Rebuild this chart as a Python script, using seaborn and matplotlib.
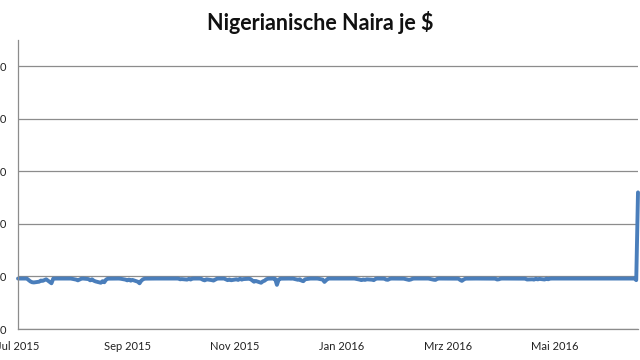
import datetime

import pandas as pd
import numpy as np
import seaborn as sns
import matplotlib.pyplot as plt

# Naira per US-$ (business days)
jul_2015 = [198.0, 198.0, 197.9, 198.0, 196.7, 195.3, 194.5, 194.3, 195.0, 196.1,
            195.8, 196.5, 197.3, 193.5, 197.9, 198.0, 198.0, 198.0, 198.0, 197.9,
            198.0, 198.0, 198.0]
aug_2015 = [197.0, 196.3, 197.1, 197.9, 198.0, 197.5, 196.3, 197.3, 196.0, 195.3,
            194.0, 195.5, 194.5, 197.0, 197.9, 198.0, 198.0, 198.0, 198.0, 197.9,
            197.0]
sep_2015 = [196.3, 197.0, 196.0, 196.7, 195.0, 193.5, 196.0, 197.3, 197.9, 198.0,
            198.0, 198.0, 198.0, 198.0, 198.0, 198.0, 198.0, 198.0, 198.0, 198.0,
            198.0, 198.0]
oct_2015 = [197.3, 197.5, 197.0, 197.7, 197.1, 197.9, 198.0, 198.0, 197.8, 196.8,
            196.3, 197.3, 196.5, 196.1, 197.0, 197.9, 198.0, 198.0, 197.3, 196.5,
            197.1, 196.4]
nov_2015 = [197.3, 196.7, 197.8, 197.0, 197.5, 197.8, 197.5, 196.3, 195.0, 195.7,
            194.0, 195.3, 196.0, 197.3, 197.9, 198.0, 197.7, 192.0, 197.0, 197.9,
            198.0]
dec_2015 = [198.0, 198.0, 197.9, 198.0, 196.8, 197.3, 196.0, 195.5, 197.3, 198.0,
            198.0, 198.0, 197.9, 198.0, 197.0, 194.8, 196.5, 197.9, 198.0, 198.0,
            198.0, 198.0, 198.0]
jan_2016 = [198.0, 198.0, 198.0, 198.0, 197.9, 198.0, 197.0, 196.5, 197.1, 196.7,
            197.3, 196.9, 196.5, 197.7, 198.0, 198.0, 197.9, 197.0, 196.8, 197.7,
            198.0]
feb_2016 = [198.0, 198.0, 198.0, 198.0, 197.9, 196.7, 197.1, 197.8, 198.0, 198.0,
            198.0, 198.0, 198.0, 197.9, 198.0, 196.9, 196.7, 197.7, 198.0, 198.0,
            198.0]
mar_2016 = [198.0, 198.0, 198.0, 198.0, 197.9, 196.7, 195.8, 197.0, 197.9, 198.0,
            198.0, 198.0, 198.0, 198.0, 198.0, 198.0, 197.9, 198.0, 198.0, 197.9,
            197.1, 197.3, 197.9]
apr_2016 = [198.0, 198.0, 198.0, 198.0, 198.0, 198.0, 198.0, 198.0, 198.0, 197.9,
            197.1, 197.3, 197.0, 197.8, 197.2, 197.7, 197.1, 197.9, 197.3, 197.9,
            198.0]
may_2016 = [198.0, 198.0, 198.0, 198.0, 198.0, 198.0, 198.0, 198.0, 197.9, 198.0,
            198.0, 198.0, 198.0, 198.0, 198.0, 198.0, 198.0, 198.0, 198.0, 197.9,
            198.0, 198.0]
jun_2016 = [198.0, 198.0, 198.0, 198.0, 198.0, 198.0, 198.0, 198.0, 198.0, 198.0,
            198.0, 196.5, 280.0]

tick_dates = ["2015-07-01", "2015-09-01", "2015-11-01", "2016-01-01", "2016-03-01", "2016-05-01"]
tick_labels = ["Jul 2015", "Sep 2015", "Nov 2015", "Jan 2016", "Mrz 2016", "Mai 2016"]
y_ticks = [150, 200, 250, 300, 350, 400]

values = (jul_2015 + aug_2015 + sep_2015 + oct_2015 + nov_2015 + dec_2015 +
          jan_2016 + feb_2016 + mar_2016 + apr_2016 + may_2016 + jun_2016)
dates = pd.bdate_range("2015-07-01", "2016-06-17")
df = pd.DataFrame({"datum": dates, "kurs": values})

sns.set_theme(style="white")
plt.rcParams['font.family'] = ['Lato', 'DejaVu Sans']

grid_col = "#8c8c8c"

fig = plt.figure(figsize=(6.4, 3.6), dpi=100)
ax = fig.add_axes([18 / 640, 31 / 360, 620 / 640, 289 / 360])

sns.lineplot(data=df, x="datum", y="kurs", ax=ax, color="#4A7EBB",
             linewidth=2.8, clip_on=False)

ax.set_xlim(pd.Timestamp("2015-07-01"), pd.Timestamp("2016-06-17"))
ax.set_ylim(150, 425)
ax.set_yticks(y_ticks)
ax.set_yticklabels([str(v) for v in y_ticks])
ax.set_xticks(pd.to_datetime(tick_dates))
ax.set_xticklabels(tick_labels)

ax.grid(axis="y", color=grid_col, linewidth=0.9)
ax.set_axisbelow(True)
for s in ["top", "right"]:
    ax.spines[s].set_visible(False)
for s in ["left", "bottom"]:
    ax.spines[s].set_color(grid_col)
    ax.spines[s].set_linewidth(0.9)

ax.tick_params(axis="both", which="major", direction="out", length=4, width=0.9,
               color=grid_col, labelsize=8, labelcolor="#222222")
ax.tick_params(axis="y", pad=4)
ax.tick_params(axis="x", pad=5)
ax.set_xlabel("")
ax.set_ylabel("")

fig.text(0.5, 1 - 22 / 360, "Nigerianische Naira je $", ha="center", va="center",
         fontsize=15.5, fontweight="bold", color="#111111")

fig.savefig("out.png", dpi=100)
